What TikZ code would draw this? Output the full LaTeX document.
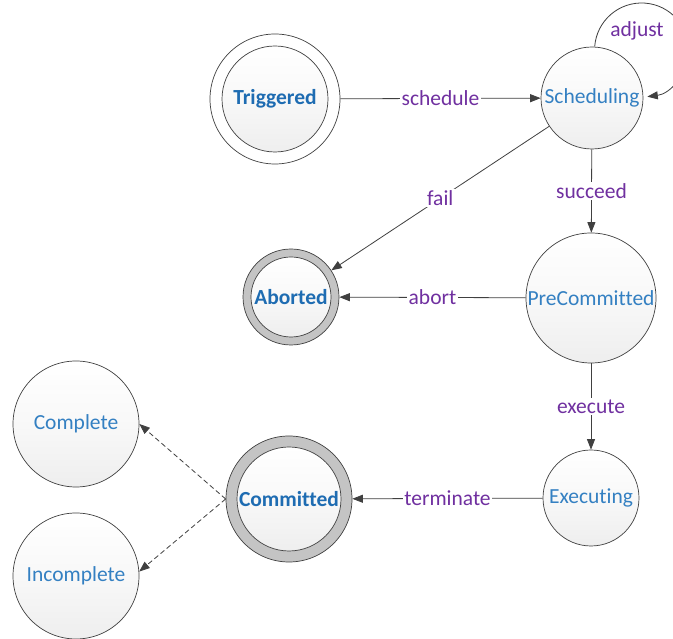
\documentclass[tikz,border=0pt]{standalone}
\usepackage{fontspec}
\setmainfont{Carlito}[Ligatures={NoCommon}]
\usetikzlibrary{arrows.meta}

\definecolor{stateblue}{RGB}{52,128,194}
\definecolor{finalblue}{RGB}{30,108,178}
\definecolor{labelpurple}{RGB}{112,48,160}
\definecolor{edgegray}{RGB}{64,64,64}
\definecolor{ringgray}{RGB}{196,196,196}
\definecolor{ballgray}{RGB}{238,238,238}

\begin{document}
\begin{tikzpicture}[x=1pt,y=1pt,
  statefont/.style={font=\fontsize{21.5}{25}\selectfont},
  stateball/.style={circle, draw=edgegray, line width=0.7pt,
    top color=white, bottom color=ballgray, middle color=white!60!ballgray,
    minimum size=#1, inner sep=0pt, text=stateblue, statefont},
  endtext/.style={text=finalblue, font=\fontsize{21.5}{25}\selectfont\bfseries},
  openring/.style={circle, draw=edgegray, line width=0.7pt, fill=white,
    minimum size=#1, inner sep=0pt},
  grayring/.style={circle, draw=edgegray, line width=0.7pt, fill=ringgray,
    minimum size=#1, inner sep=0pt},
  edge/.style={draw=edgegray, line width=0.8pt,
    -{Triangle[length=10.5pt,width=8pt]}},
  dashedge/.style={edge, dash pattern=on 5pt off 3pt},
  lbl/.style={fill=white, text=labelpurple, inner sep=1.5pt,
    font=\fontsize{21.5}{25}\selectfont}
]
\useasboundingbox[fill=white] (0,0) rectangle (673,639);

% start state
\node[openring=130pt] (trig) at (275,540) {};
\node[stateball=106pt, endtext] (trigin) at (trig) {Triggered};

% ordinary states
\node[stateball=102pt] (sched) at (592,541) {Scheduling};
\node[stateball=130pt] (prec) at (591,341) {PreCommitted};
\node[stateball=96pt] (exec) at (591,141) {Executing};
\node[stateball=126pt] (compl) at (76,215) {Complete};
\node[stateball=126pt] (incompl) at (76,63) {Incomplete};

% final states
\node[grayring=96pt] (abort) at (291,342) {};
\node[stateball=80pt, endtext] (abortin) at (abort) {Aborted};
\node[grayring=126pt] (comm) at (289,140) {};
\node[stateball=104pt, endtext] (commin) at (comm) {Committed};

% transitions
\draw[edge] (trig) -- node[lbl] {schedule} (sched);
\draw[edge] (sched) -- node[lbl] {fail} (abort);
\draw[edge] (sched) -- node[lbl] {succeed} (prec);
\draw[edge] (prec) -- node[lbl] {abort} (abort);
\draw[edge] (prec) -- node[lbl] {execute} (exec);
\draw[edge] (exec) -- node[lbl] {terminate} (comm);

% self loop on Scheduling
\draw[edge] (sched.87) arc[start angle=176, end angle=-83, radius=47];
\node[lbl, fill=none] (adjustlbl) at (637,608) {adjust};

% outcomes of a committed run
\draw[dashedge] (comm.west) -- (compl.east);
\draw[dashedge] (comm.west) -- (incompl.4);
\end{tikzpicture}
\end{document}
